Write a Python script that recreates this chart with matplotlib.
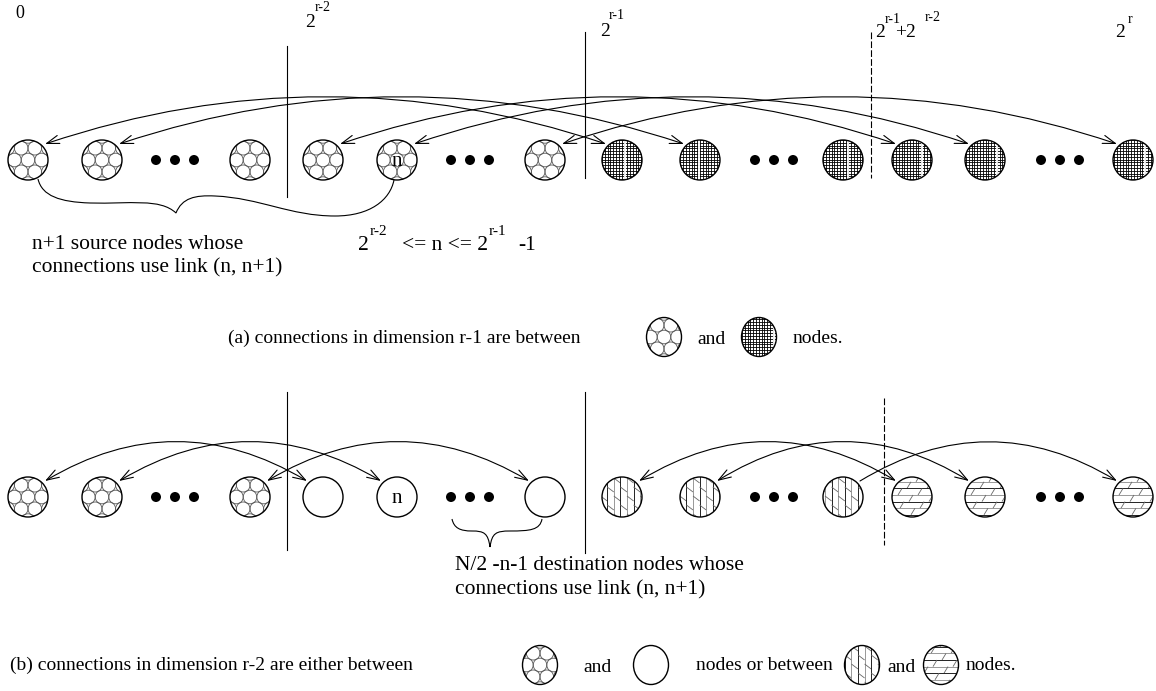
import matplotlib
matplotlib.use('Agg')
import matplotlib.pyplot as plt
from matplotlib.patches import Circle, Ellipse, FancyArrowPatch, PathPatch, ArrowStyle
from matplotlib.collections import LineCollection, PatchCollection
from matplotlib.path import Path
import numpy as np

plt.rcParams['font.family'] = ['Liberation Serif', 'DejaVu Serif']

# ---------------- data ----------------
node_x = [28, 102, 250, 323, 397, 545, 622, 700, 843, 912, 985, 1133]
dots_x = [175, 470, 774, 1060]
row_a_kinds = ['circ'] * 6 + ['grid'] * 6
row_b_kinds = ['circ'] * 3 + ['empty'] * 3 + ['vert'] * 3 + ['horiz'] * 3
row_a_labels = {4: 'n'}
row_b_labels = {4: 'n'}
row_a_pairs = [(0, 6, '<->'), (1, 7, '<->'), (3, 9, '<->'), (4, 10, '<->'), (5, 11, '<->')]
row_b_pairs = [(0, 3, '<->'), (1, 4, '<->'), (2, 5, '<->'), (6, 9, '<->'), (7, 10, '<->'), (8, 11, '->')]

ROW_A_Y, ROW_B_Y = 160, 497
R = 20
FS_BODY = 15.5
FS_LEG = 14

W, H = 1156, 691
fig = plt.figure(figsize=(W / 100, H / 100), dpi=100)
ax = fig.add_axes([0, 0, 1, 1])
ax.set_xlim(0, W)
ax.set_ylim(H, 0)
ax.axis('off')


def pattern_circles(x, y, clip):
    s, rs, dy = 13.6, 6.8, 11.8
    pats = []
    for j in range(-3, 4):
        off = 0 if j % 2 == 0 else s / 2
        for i in range(-3, 4):
            pats.append(Circle((x + i * s + off, y + j * dy), rs))
    pc = PatchCollection(pats, facecolor='none', edgecolor='#555555', linewidths=0.6, zorder=3)
    pc.set_clip_path(clip)
    ax.add_collection(pc)


def pattern_grid(x, y, clip):
    step = 2.8
    segs = []
    x0 = np.floor((x - 25) / step) * step
    for xx in np.arange(x0, x + 25, step):
        segs.append([(xx, y - 25), (xx, y + 25)])
    y0 = np.floor((y - 25) / step) * step
    for yy in np.arange(y0, y + 25, step):
        segs.append([(x - 25, yy), (x + 25, yy)])
    lc = LineCollection(segs, colors='black', linewidths=0.6, zorder=3)
    lc.set_clip_path(clip)
    ax.add_collection(lc)
    st = []
    for k in range(-12, 20):
        sx = 625 + 74.3 * k
        if x - 22 < sx < x + 22:
            st.append([(sx, y - 25), (sx, y + 25)])
    wl = LineCollection(st, colors='white', linewidths=1.3, zorder=3.5)
    wl.set_clip_path(clip)
    ax.add_collection(wl)


def pattern_vert(x, y, clip):
    step = 6.6
    segs, cols = [], []
    x0 = np.floor((x - 26) / step)
    for k in range(int(x0), int(x0) + 10):
        xx = k * step
        segs.append([(xx, y - 25), (xx, y + 25)])
        cols.append('black' if k % 2 == 0 else '#888888')
        for m in range(-2, 3):
            yb = y - 10 + ((k * 9) % 18) + m * 18
            segs.append([(xx, yb), (xx + step, yb + 5)])
            cols.append('#666666')
    lc = LineCollection(segs, colors=cols, linewidths=0.6, zorder=3)
    lc.set_clip_path(clip)
    ax.add_collection(lc)


def pattern_horiz(x, y, clip):
    step = 6.6
    segs, cols = [], []
    y0 = np.floor((y - 26) / step)
    for k in range(int(y0), int(y0) + 10):
        yy = k * step
        segs.append([(x - 25, yy), (x + 25, yy)])
        cols.append('black' if k % 2 == 0 else '#888888')
        for m in range(-2, 3):
            xa = x - 8 + ((k * 11) % 20) + m * 20
            segs.append([(xa, yy + step), (xa + 4, yy)])
            cols.append('#666666')
    lc = LineCollection(segs, colors=cols, linewidths=0.6, zorder=3)
    lc.set_clip_path(clip)
    ax.add_collection(lc)


def draw_node(x, y, kind, w=2 * R, h=2 * R, label=None):
    base = Ellipse((x, y), w, h, facecolor='white', edgecolor='none', zorder=2)
    ax.add_patch(base)
    if kind == 'circ':
        pattern_circles(x, y, base)
    elif kind == 'grid':
        pattern_grid(x, y, base)
    elif kind == 'vert':
        pattern_vert(x, y, base)
    elif kind == 'horiz':
        pattern_horiz(x, y, base)
    ax.add_patch(Ellipse((x, y), w, h, fill=False, edgecolor='black', lw=1.0, zorder=4))
    if label:
        ax.text(x, y + 1, label, ha='center', va='center', fontsize=15, zorder=5)


def draw_dots(cx, y):
    for d in (-19, 0, 19):
        ax.add_patch(Circle((cx + d, y), 5, facecolor='black', edgecolor='none', zorder=3))


def draw_arc(i, j, y, style, peak_h):
    x1 = node_x[i] + 17
    x2 = node_x[j] - 16
    y1 = y - 16
    L = x2 - x1
    rad = -2.0 * peak_h / L
    a = FancyArrowPatch((x1, y1), (x2, y1), arrowstyle=ArrowStyle(style, head_length=9, head_width=3),
                        connectionstyle=f'arc3,rad={rad}', lw=0.8, color='black',
                        shrinkA=0, shrinkB=0, zorder=6)
    ax.add_patch(a)


# ---------------- row (a) ----------------
for k, x in enumerate(node_x):
    draw_node(x, ROW_A_Y, row_a_kinds[k], label=row_a_labels.get(k))
for d in dots_x:
    draw_dots(d, ROW_A_Y)
for i, j, st in row_a_pairs:
    draw_arc(i, j, ROW_A_Y, st, 47)

ax.plot([287, 287], [46, 197], color='black', lw=0.8, zorder=1)
ax.plot([585, 585], [32, 178], color='black', lw=0.8, zorder=1)
ax.plot([871, 871], [32, 178], color='black', lw=0.8, ls=(0, (6, 2)), zorder=1)

# top labels
ax.text(20, 13, '0', ha='center', va='center', fontsize=13)
ax.text(305, 22, '2', ha='left', va='center', fontsize=14)
ax.text(315, 7, 'r-2', ha='left', va='center', fontsize=10)
ax.text(600, 31, '2', ha='left', va='center', fontsize=14)
ax.text(609, 15, 'r-1', ha='left', va='center', fontsize=10)
ax.text(875, 32, '2', ha='left', va='center', fontsize=14)
ax.text(885, 19, 'r-1', ha='left', va='center', fontsize=10)
ax.text(895, 32, '+2', ha='left', va='center', fontsize=14)
ax.text(925, 17, 'r-2', ha='left', va='center', fontsize=10)
ax.text(1115, 32, '2', ha='left', va='center', fontsize=14)
ax.text(1128, 19, 'r', ha='left', va='center', fontsize=10)

# brace (a)
verts = [(38, 179),
         (42, 196), (60, 202), (90, 203),
         (130, 204), (160, 198), (176, 213),
         (182, 198), (195, 195), (215, 196),
         (260, 198), (290, 216), (335, 216),
         (370, 216), (390, 200), (394, 180)]
codes = [Path.MOVETO] + [Path.CURVE4] * 15
ax.add_patch(PathPatch(Path(verts, codes), fill=False, lw=0.8, edgecolor='black'))

ax.text(32, 244, 'n+1 source nodes whose', ha='left', va='center', fontsize=FS_BODY)
ax.text(32, 268, 'connections use link (n, n+1)', ha='left', va='center', fontsize=FS_BODY)
ax.text(358, 245, '2', ha='left', va='center', fontsize=FS_BODY)
ax.text(370, 231, 'r-2', ha='left', va='center', fontsize=11)
ax.text(402, 245, '<= n <= 2', ha='left', va='center', fontsize=FS_BODY)
ax.text(489, 231, 'r-1', ha='left', va='center', fontsize=11)
ax.text(518, 245, '-1', ha='left', va='center', fontsize=FS_BODY)

# legend (a)
ax.text(228, 338, '(a) connections in dimension r-1 are between', ha='left', va='center', fontsize=FS_LEG)
draw_node(664, 337, 'circ', w=35, h=39)
ax.text(697, 339, 'and', ha='left', va='center', fontsize=FS_LEG)
draw_node(759, 337, 'grid', w=35, h=39)
ax.text(793, 338, 'nodes.', ha='left', va='center', fontsize=FS_LEG)

# ---------------- row (b) ----------------
for k, x in enumerate(node_x):
    draw_node(x, ROW_B_Y, row_b_kinds[k], label=row_b_labels.get(k))
for d in dots_x:
    draw_dots(d, ROW_B_Y)
for i, j, st in row_b_pairs:
    draw_arc(i, j, ROW_B_Y, st, 39)

ax.plot([287, 287], [392, 550], color='black', lw=0.8, zorder=1)
ax.plot([585, 585], [392, 553], color='black', lw=0.8, zorder=1)
ax.plot([884, 884], [398, 545], color='black', lw=0.8, ls=(0, (6, 2)), zorder=1)

verts = [(452, 519),
         (454, 528), (460, 531), (472, 531),
         (484, 531), (488, 533), (490, 547),
         (492, 533), (496, 531), (510, 531),
         (530, 531), (540, 530), (542, 519)]
codes = [Path.MOVETO] + [Path.CURVE4] * 12
ax.add_patch(PathPatch(Path(verts, codes), fill=False, lw=0.8, edgecolor='black'))

ax.text(455, 566, 'N/2 -n-1 destination nodes whose', ha='left', va='center', fontsize=FS_BODY)
ax.text(455, 590, 'connections use link (n, n+1)', ha='left', va='center', fontsize=FS_BODY)

# legend (b)
ax.text(10, 665, '(b) connections in dimension r-2 are either between', ha='left', va='center', fontsize=FS_LEG)
draw_node(540, 665, 'circ', w=35, h=39)
ax.text(583, 667, 'and', ha='left', va='center', fontsize=FS_LEG)
draw_node(651, 665, 'empty', w=35, h=39)
ax.text(696, 666, 'nodes or between', ha='left', va='center', fontsize=FS_LEG)
draw_node(862, 665, 'vert', w=35, h=39)
ax.text(887, 667, 'and', ha='left', va='center', fontsize=FS_LEG)
draw_node(941, 665, 'horiz', w=35, h=39)
ax.text(966, 666, 'nodes.', ha='left', va='center', fontsize=FS_LEG)

fig.savefig('out.png', dpi=100, facecolor='white')
